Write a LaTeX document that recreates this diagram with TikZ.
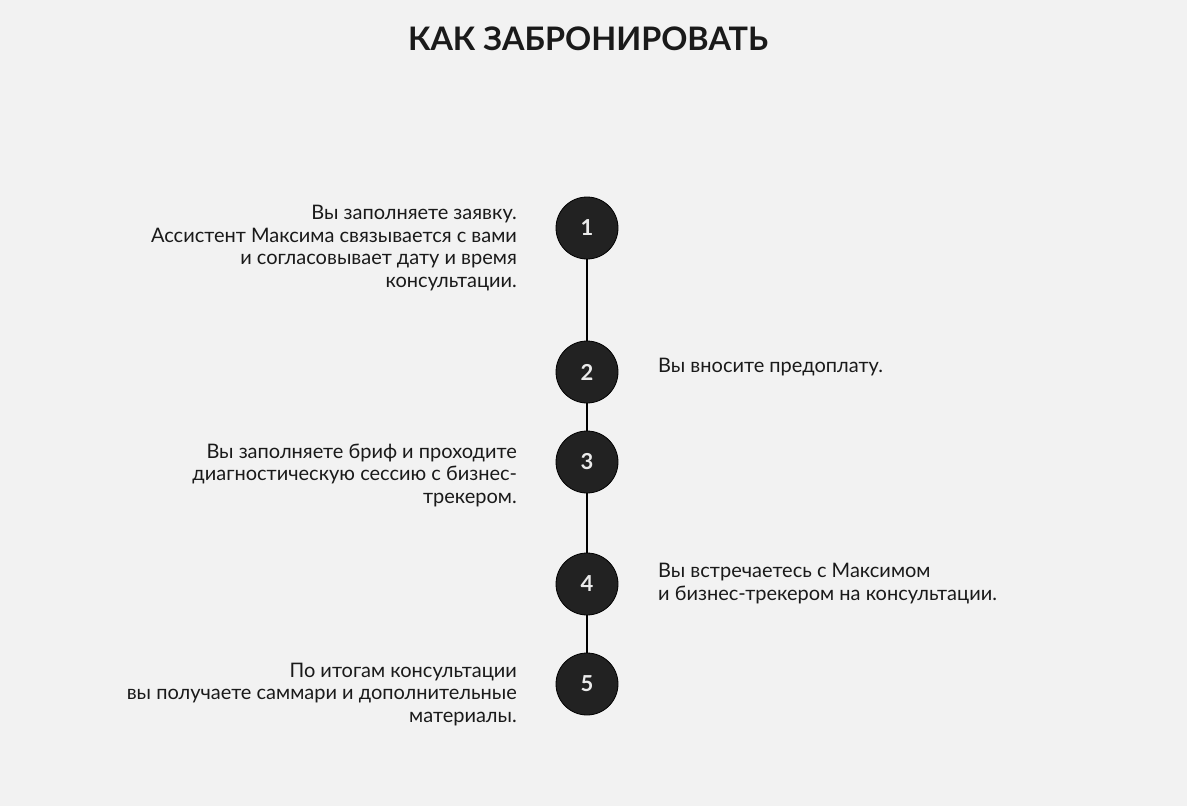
\documentclass[tikz,border=0pt]{standalone}
\usepackage{fontspec}
\setmainfont{Lato}
\usepackage{xcolor}
\usetikzlibrary{positioning}
\definecolor{bg}{HTML}{F2F2F2}
\definecolor{dot}{HTML}{222222}
\definecolor{ink}{HTML}{1A1A1A}

\begin{document}
\begin{tikzpicture}[x=1pt,y=-1pt,
  stepdot/.style={circle,fill=dot,draw=black,line width=0.8pt,minimum size=62pt,
    inner sep=0pt,text=white!92!black,font=\fontsize{22}{22}\selectfont\bfseries},
  note/.style={font=\fontsize{20}{22.5}\selectfont,text=ink,inner sep=0pt}]
\fill[bg] (0,0) rectangle (1187,806);
\node[font=\fontsize{32.4}{33}\selectfont\bfseries,text=ink,anchor=base] (title) at (588,50) {КАК ЗАБРОНИРОВАТЬ};
% timeline
\foreach \n/\y in {1/228,2/372,3/462,4/584,5/684}
  \node[stepdot] (s\n) at (587,\y) {\n};
\foreach \a/\b in {1/2,2/3,3/4,4/5}
  \draw[line width=1.5pt,black] (s\a) -- (s\b);
% steps on the left (base = last line)
\node[note,align=right,anchor=base east] (t1) at (517,287) {Вы заполняете заявку.\\Ассистент Максима связывается с вами\\и согласовывает дату и время\\консультации.};
\node[note,align=right,anchor=base east] (t3) at (517,503) {Вы заполняете бриф и проходите\\диагностическую сессию с бизнес-\\трекером.};
\node[note,align=right,anchor=base east] (t5) at (517,722) {По итогам консультации\\вы получаете саммари и дополнительные\\материалы.};
% steps on the right
\node[note,align=left,anchor=base west] (t2) at (658,372) {Вы вносите предоплату.};
\node[note,align=left,anchor=base west] (t4) at (658,600) {Вы встречаетесь с Максимом\\и бизнес-трекером на консультации.};
\end{tikzpicture}
\end{document}
